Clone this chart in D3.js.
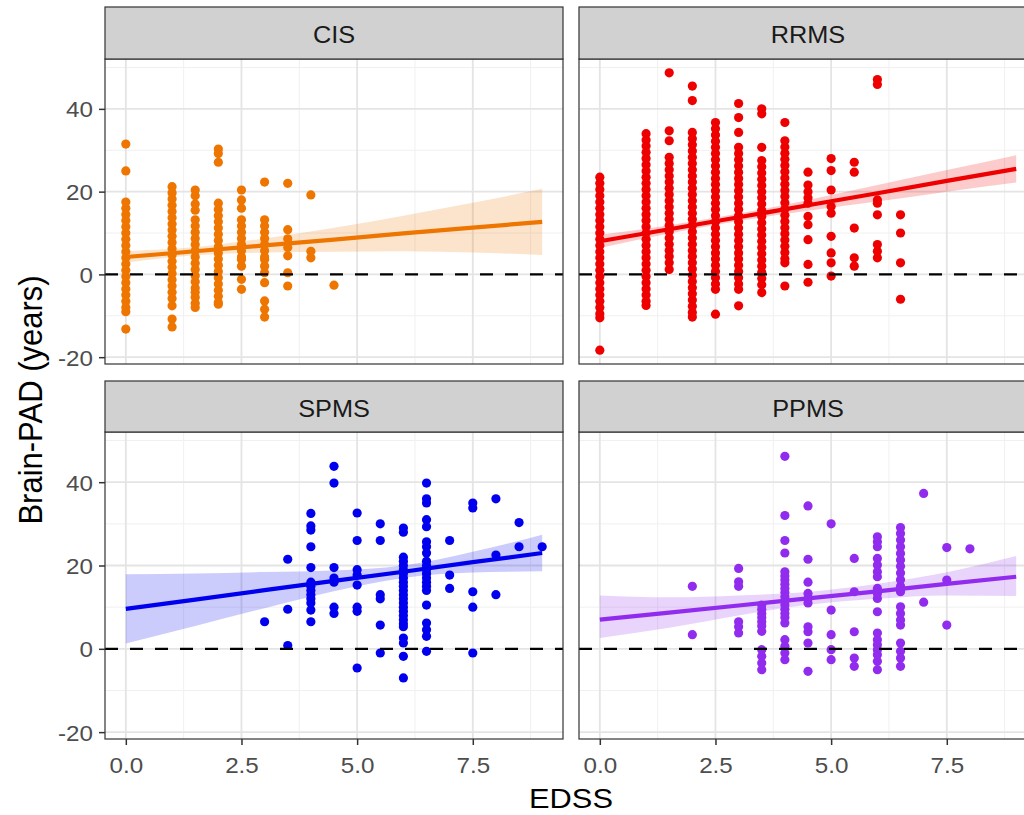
<!DOCTYPE html>
<html lang="en">
<head>
    <meta charset="UTF-8">
    <title>Brain-PAD by EDSS</title>
    <script src="https://d3js.org/d3.v7.min.js" charset="utf-8"></script>
    <style>
        body, html {
            margin: 0;
            padding: 0;
            background: #FFFFFF;
            overflow: hidden;
        }
        text {
            font-family: "Liberation Sans", Arial, sans-serif;
        }
    </style>
</head>
<body>
    <svg id="chart"></svg>

    <script>
        // SVG size
        const width = 1024;
        const height = 815;

        // facets, in facet_wrap order
        const panels = ['CIS', 'RRMS', 'SPMS', 'PPMS'];
        const colours = ['#EE7600', '#EE0000', '#0000EE', '#912CEE'];

        // axis breaks
        const xTicks = [0, 2.5, 5, 7.5];
        const xTickLabels = ['0.0', '2.5', '5.0', '7.5'];
        const xMinor = [1.25, 3.75, 6.25, 8.75];
        const yTicks = [-20, 0, 20, 40];
        const yTickLabels = ['-20', '0', '20', '40'];
        const yMinor = [-10, 10, 30, 50];

        // points: [EDSS, [Brain-PAD values]]
        const cisPoints = [
            [0, [31.5, 25, 17.5, 16, 14.5, 13, 11.5, 10, 8.5, 7, 5.5, 4, 2.5, 1, -0.5, -2, -3.5, -5, -6.5, -8, -9, -13.2]],
            [1, [21.2, 19.7, 18.2, 16.7, 15.2, 13.7, 12.2, 10.7, 9.2, 7.7, 6.2, 4.7, 3.2, 1.7, 0.2, -1.3, -2.8, -4.3, -5.8, -7.6, -10.8, -12.7]],
            [1.5, [20.4, 19, 17, 15.5, 13.2, 11.7, 10.2, 8.7, 7.2, 5.7, 4.2, 2.7, 1.2, -0.3, -1.8, -3.3, -4.3, -5.5, -7, -8]],
            [2, [30.3, 29.2, 27.1, 17.2, 15.7, 14.2, 12.7, 11.2, 9.7, 8.2, 6.7, 5.2, 3.7, 2.2, 0.7, -0.8, -2.3, -3.8, -5.3, -6.8, -7.2]],
            [2.5, [20.4, 18, 16, 13.2, 11.7, 10.2, 8.7, 7.2, 5.7, 4.2, 3.6, 2, -1.2, -3.6]],
            [3, [22.3, 13.2, 11.7, 10.2, 8.7, 7.2, 5.7, 4.2, 3.6, 2, 0.4, -2, -6.4, -8.4, -10.3]],
            [3.5, [22, 10.8, 8.6, 6.5, 4.5, 0.4, -2.8]],
            [4, [19.2, 5.6, 4.0]],
            [4.5, [-2.6]]
        ];
        const rrmsPoints = [
            [0, [23.5, 22, 20.5, 19, 17.5, 16, 14.5, 13, 11.5, 10, 8.5, 7, 5.5, 4, 2.5, 1, -0.5, -2, -3.5, -5, -6.5, -8, -9.5, -10.5, -18.3]],
            [1, [34, 32.5, 31, 29.5, 28, 26.5, 25, 23.5, 22, 20.5, 19, 17.5, 16, 14.5, 13, 11.5, 10, 8.5, 7, 5.5, 4, 2.5, 1, -0.5, -2, -3.5, -5, -6.5, -7.5]],
            [1.5, [48.7, 34.7, 32.3, 28.3, 26.8, 25.3, 23.8, 22.3, 20.8, 19.3, 17.8, 16.3, 14.8, 13.3, 11.8, 10.3, 8.8, 7.3, 5.8, 4.3, 2.8, 1.2]],
            [2, [45.5, 42, 34.3, 32.8, 31.3, 29.8, 28.3, 26.8, 25.3, 23.8, 22.3, 20.8, 19.3, 17.8, 16.3, 14.8, 13.3, 11.8, 10.3, 8.8, 7.3, 5.8, 4.3, 2.8, 1.3, -0.2, -1.7, -3.2, -4.7, -6.2, -7.7, -9.2, -10.3]],
            [2.5, [36.7, 35.2, 33.7, 32.2, 30.7, 29.2, 27.7, 26.2, 24.7, 23.2, 21.7, 20.2, 18.7, 17.2, 15.7, 14.2, 12.7, 11.2, 9.7, 8.2, 6.7, 5.2, 3.7, 2.2, 0.7, -0.8, -2.3, -3.6, -9.6]],
            [3, [41.3, 37.9, 34.3, 30.7, 29.2, 27.7, 26.2, 24.7, 23.2, 21.7, 20.2, 18.7, 17.2, 15.7, 14.2, 12.7, 11.2, 9.7, 8.2, 6.7, 5.2, 3.7, 2.2, 0.7, -0.8, -2.3, -3.6, -7.6]],
            [3.5, [40, 38.8, 30.7, 27.5, 26, 24.5, 23, 21.5, 20, 18.5, 17, 15.5, 14, 12.5, 11, 9.5, 8, 6.5, 5, 3.5, 2, 0.5, -1, -2.5, -4.4]],
            [4, [36.7, 32.3, 30.8, 29.3, 27.8, 26.3, 24.8, 23.3, 21.8, 20.3, 18.8, 17.3, 15.8, 14.3, 12.8, 11.3, 9.8, 8.3, 6.8, 5.3, 3.8, 2.8, -2.8]],
            [4.5, [24.7, 21.6, 20, 18.5, 17.2, 14, 12, 8.4, 2.4, -1.9]],
            [5, [28, 25.1, 20.4, 16.4, 14.8, 9.2, 5.2, 2.8, -0.4]],
            [5.5, [27.1, 24.7, 11.2, 4.0, 2.0]],
            [6, [47.1, 45.9, 18, 17.2, 14.4, 7.2, 5.6, 4.0]],
            [6.5, [14.4, 10, 2.8, -6]]
        ];
        const spmsPoints = [
            [3, [6.5]],
            [3.5, [21.5, 9.5, 0.8]],
            [4, [32.5, 29.5, 28.5, 24.5, 19.5, 16, 15, 14, 13, 12, 11, 9.3, 6.5]],
            [4.5, [43.8, 39.8, 19.5, 17, 16, 10, 8.5]],
            [5, [32.6, 26, 19, 17.7, 15.3, 10, 9, -4.6]],
            [5.5, [30, 26, 13, 12, 5.7, -1]],
            [6, [29, 28, 22, 21, 20, 19, 18, 17, 16, 15, 14, 13, 12, 11, 10, 9, 8, 7, 6, 5.3, 2.6, 1.4, -1.8, -7]],
            [6.5, [39.8, 36, 35, 31, 29.3, 25.7, 24.5, 23, 21, 20, 19, 18, 17, 16, 15, 14, 10.5, 6.2, 4.6, 3, -0.6]],
            [7, [26, 17.7, 14.5]],
            [7.5, [35, 33.8, 13.7, 10, -1]],
            [8, [36, 22.5, 13]],
            [8.5, [30.3, 24.5]],
            [9, [24.5]]
        ];
        const ppmsPoints = [
            [2, [15, 3.4]],
            [3, [19.3, 16.1, 15, 6.5, 5.3, 3.8]],
            [3.5, [10.5, 9.5, 8.5, 7.5, 6.5, 5.5, 4.2, -0.2, -1.8, -3.4, -5]],
            [4, [46.2, 32, 26, 23, 18.5, 17.5, 16.5, 15.5, 14.5, 13.5, 12.5, 11.5, 10.5, 9.5, 8.5, 7.5, 6.2, 2.2, 0.6, -1, -2.6]],
            [4.5, [34.3, 21.5, 16, 13.3, 12, 11, 5.3, 4.1, 1.4, -5.4]],
            [5, [30, 9.3, 3.4, -0.2, -2.6]],
            [5.5, [21.7, 13.7, 4.1, -2.2, -4.2]],
            [6, [26.9, 25.7, 24.5, 21.7, 20.1, 18.5, 17.3, 14.5, 13.3, 12.1, 8.9, 3.8, 2.2, 1.0, -0.2, -1.4, -3.0, -5.0]],
            [6.5, [29.1, 27.7, 26.1, 24.5, 22.9, 21.3, 19.8, 18.2, 16.6, 15.0, 13.7, 10.1, 8.5, 6.9, 5.7, 1.4, -0.6, -2.2, -4.2]],
            [7, [37.3, 11.2]],
            [7.5, [24.3, 16.5, 5.7]],
            [8, [24]]
        ];

        // linear fits with 95% bands, read at these EDSS values
        const fitX = [0, 1.5, 3, 4.5, 6, 7.5, 9];
        const cisFit = [4.2, 5.6, 7.0, 8.4, 9.9, 11.3, 12.7];
        const cisLo = [2.8, 4.6, 5.3, 5.5, 5.6, 5.3, 4.7];
        const cisHi = [5.6, 6.6, 8.7, 11.3, 14.2, 17.3, 20.7];
        const rrmsFit = [8.0, 10.9, 13.8, 16.7, 19.6, 22.6, 25.5];
        const rrmsLo = [6.4, 9.9, 12.9, 15.4, 17.6, 20.0, 22.2];
        const rrmsHi = [9.6, 11.9, 14.7, 18.0, 21.6, 25.2, 28.8];
        const spmsFit = [9.6, 11.8, 14.1, 16.3, 18.5, 20.8, 23.0];
        const spmsLo = [1.3, 5.5, 9.75, 13.8, 17.0, 18.3, 18.6];
        const spmsHi = [17.9, 18.1, 18.45, 18.8, 20.0, 23.3, 27.4];
        const ppmsFit = [7.0, 8.7, 10.4, 12.1, 13.8, 15.6, 17.3];
        const ppmsLo = [2.6, 5.05, 8.0, 10.55, 12.0, 12.8, 12.7];
        const ppmsHi = [12.8, 12.35, 12.8, 13.65, 15.6, 18.4, 22.3];

        const allPoints = [cisPoints, rrmsPoints, spmsPoints, ppmsPoints];
        const allFits = [[cisFit, cisLo, cisHi], [rrmsFit, rrmsLo, rrmsHi],
                         [spmsFit, spmsLo, spmsHi], [ppmsFit, ppmsLo, ppmsHi]];

        // layout (pixels)
        const colX = [[105, 563], [579, 1037]];
        const rowY = [[59, 364], [432, 739]];
        const stripTop = [7, 381];
        const xDomain = [-0.45, 9.45];
        const yDomain = [-21.65, 52.05];
        const stretch = 'scale(1.1,1)'; // text in the picture is a bit wide

        const svg = d3.select('#chart')
            .attr('width', width)
            .attr('height', height);

        svg.append('rect')
            .attr('width', width)
            .attr('height', height)
            .attr('fill', '#FFFFFF');

        panels.forEach(function(name, i) {
            const col = i % 2;
            const row = Math.floor(i / 2);
            const [x0, x1] = colX[col];
            const [y0, y1] = rowY[row];

            const xScale = d3.scaleLinear().domain(xDomain).range([x0, x1]);
            const yScale = d3.scaleLinear().domain(yDomain).range([y1, y0]);

            const g = svg.append('g');

            svg.append('clipPath')
                .attr('id', 'clip' + i)
                .append('rect')
                .attr('x', x0).attr('y', y0)
                .attr('width', x1 - x0).attr('height', y1 - y0);

            // panel background + grid
            g.append('rect')
                .attr('x', x0).attr('y', y0)
                .attr('width', x1 - x0).attr('height', y1 - y0)
                .attr('fill', '#FFFFFF');

            g.selectAll('.vminor').data(xMinor).join('line')
                .attr('x1', d => xScale(d)).attr('x2', d => xScale(d))
                .attr('y1', y0).attr('y2', y1)
                .attr('stroke', '#F0F0F0').attr('stroke-width', 1);
            g.selectAll('.hminor').data(yMinor.filter(d => yScale(d) > y0)).join('line')
                .attr('x1', x0).attr('x2', x1)
                .attr('y1', d => yScale(d)).attr('y2', d => yScale(d))
                .attr('stroke', '#F0F0F0').attr('stroke-width', 1);
            g.selectAll('.vmajor').data(xTicks).join('line')
                .attr('x1', d => xScale(d)).attr('x2', d => xScale(d))
                .attr('y1', y0).attr('y2', y1)
                .attr('stroke', '#E4E4E4').attr('stroke-width', 1.8);
            g.selectAll('.hmajor').data(yTicks).join('line')
                .attr('x1', x0).attr('x2', x1)
                .attr('y1', d => yScale(d)).attr('y2', d => yScale(d))
                .attr('stroke', '#E4E4E4').attr('stroke-width', 1.8);

            const inner = g.append('g').attr('clip-path', `url(#clip${i})`);

            // points
            const pts = allPoints[i].flatMap(([e, vals]) => vals.map(v => [e, v]));
            inner.selectAll('circle').data(pts).join('circle')
                .attr('cx', d => xScale(d[0]))
                .attr('cy', d => yScale(d[1]))
                .attr('r', 4.6)
                .attr('fill', colours[i]);

            // smooth: ribbon + line
            const [fit, lo, hi] = allFits[i];
            const band = fitX.map((x, k) => ({ x: x, fit: fit[k], lo: lo[k], hi: hi[k] }));

            inner.append('path')
                .datum(band)
                .attr('d', d3.area()
                    .x(d => xScale(d.x))
                    .y0(d => yScale(d.lo))
                    .y1(d => yScale(d.hi))
                    .curve(d3.curveMonotoneX))
                .attr('fill', colours[i])
                .attr('fill-opacity', 0.2);

            inner.append('path')
                .datum(band)
                .attr('d', d3.line()
                    .x(d => xScale(d.x))
                    .y(d => yScale(d.fit)))
                .attr('fill', 'none')
                .attr('stroke', colours[i])
                .attr('stroke-width', 4.2);

            // zero reference
            inner.append('line')
                .attr('x1', x0).attr('x2', x1)
                .attr('y1', yScale(0)).attr('y2', yScale(0))
                .attr('stroke', '#000000')
                .attr('stroke-width', 2.3)
                .attr('stroke-dasharray', '13 12');

            // panel border
            g.append('rect')
                .attr('x', x0).attr('y', y0)
                .attr('width', x1 - x0).attr('height', y1 - y0)
                .attr('fill', 'none')
                .attr('stroke', '#333333')
                .attr('stroke-width', 1.2);

            // strip
            g.append('rect')
                .attr('x', x0).attr('y', stripTop[row])
                .attr('width', x1 - x0).attr('height', y0 - stripTop[row])
                .attr('fill', '#D1D1D1')
                .attr('stroke', '#333333')
                .attr('stroke-width', 1.2);
            g.append('text')
                .attr('transform', `translate(${(x0 + x1) / 2},${(stripTop[row] + y0) / 2 + 10}) ${stretch}`)
                .attr('text-anchor', 'middle')
                .style('font-size', '23px')
                .style('fill', '#1A1A1A')
                .text(name);

            // axes on the outer panels only
            if (col === 0) {
                const yAxis = g.append('g')
                    .attr('transform', `translate(${x0},0)`)
                    .call(d3.axisLeft(yScale).tickValues(yTicks)
                        .tickFormat((d, k) => yTickLabels[k]).tickSize(6).tickPadding(0));
                yAxis.select('.domain').remove();
                yAxis.selectAll('line').attr('stroke', '#333333').attr('stroke-width', 1.5);
                yAxis.selectAll('text')
                    .attr('x', 0)
                    .attr('dy', '0.36em')
                    .attr('transform', `translate(-12,0) ${stretch}`)
                    .style('font-size', '22px')
                    .style('font-family', '"Liberation Sans", Arial, sans-serif')
                    .style('fill', '#4D4D4D');
            }
            if (row === 1) {
                const xAxis = g.append('g')
                    .attr('transform', `translate(0,${y1})`)
                    .call(d3.axisBottom(xScale).tickValues(xTicks)
                        .tickFormat((d, k) => xTickLabels[k]).tickSize(6).tickPadding(0));
                xAxis.select('.domain').remove();
                xAxis.selectAll('line').attr('stroke', '#333333').attr('stroke-width', 1.5);
                xAxis.selectAll('text')
                    .attr('y', 0)
                    .attr('dy', 0)
                    .attr('transform', `translate(0,34) ${stretch}`)
                    .style('font-size', '22px')
                    .style('font-family', '"Liberation Sans", Arial, sans-serif')
                    .style('fill', '#4D4D4D');
            }
        });

        // axis titles
        svg.append('text')
            .attr('transform', `translate(571,808) ${stretch}`)
            .attr('text-anchor', 'middle')
            .style('font-size', '28px')
            .style('fill', '#000000')
            .text('EDSS');

        svg.append('text')
            .attr('transform', `translate(42,400) ${stretch} rotate(-90)`)
            .attr('text-anchor', 'middle')
            .style('font-size', '31px')
            .style('fill', '#000000')
            .text('Brain-PAD (years)');
    </script>
</body>
</html>
